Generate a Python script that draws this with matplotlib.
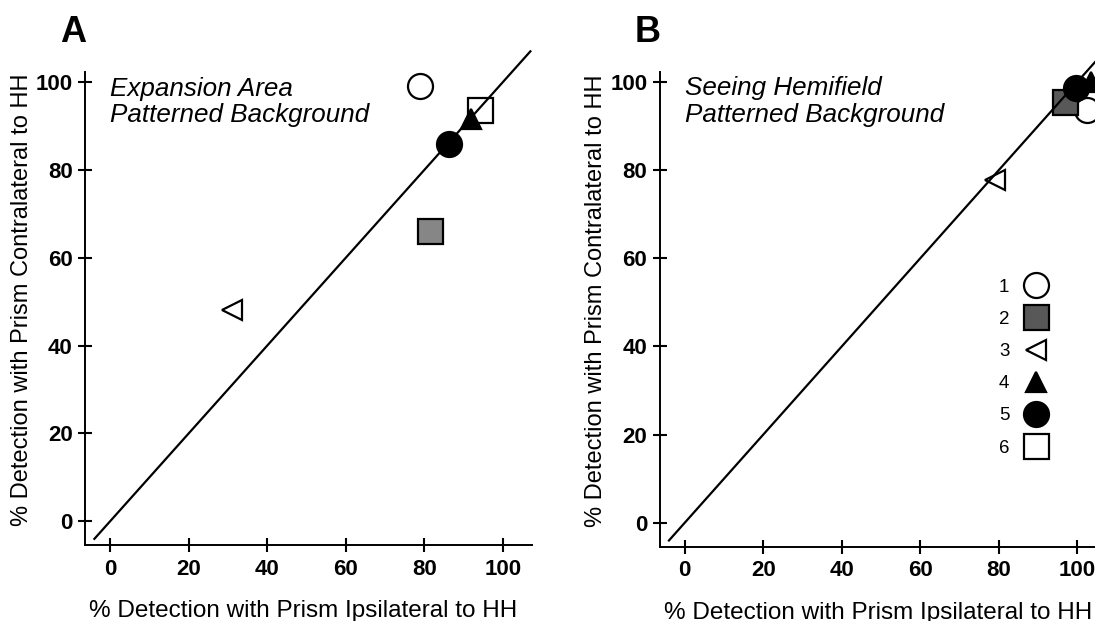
import numpy as np
import matplotlib
matplotlib.use("Agg")
import matplotlib.pyplot as plt

plt.rcParams['font.family'] = ['Liberation Sans', 'DejaVu Sans']

# ---- data ----
subjects = ['1', '2', '3', '4', '5', '6']
a_ipsi = [79.0, 81.4, 31.0, 91.8, 86.3, 94.1]
a_contra = [99.0, 66.0, 48.0, 91.7, 86.0, 93.6]
b_ipsi = [102.5, 96.9, 79.0, 103.5, 99.6, np.nan]
b_contra = [93.5, 95.5, 77.7, 100.0, 98.6, np.nan]
diag = [-4, 107]
ticks = [0, 20, 40, 60, 80, 100]
panel_texts = ["Expansion Area\nPatterned Background",
               "Seeing Hemifield\nPatterned Background"]
xlabel = "% Detection with Prism Ipsilateral to HH"
ylabel = "% Detection with Prism Contralateral to HH"

# ---- styles ----
markers = ['o', 's', '<', '^', 'o', 's']
msizes = [18, 18, 15, 15, 18, 18]
faces_a = ['white', '#868686', 'white', 'black', 'black', 'white']
faces_b = ['white', '#585858', 'white', 'black', 'black', 'white']
zorders = [2, 3, 2, 3.5, 3, 2.5]

fig = plt.figure(figsize=(10.95, 6.21), dpi=100)
axA = fig.add_axes([0.0776, 0.1224, 0.4082, 0.7617])
axB = fig.add_axes([0.6023, 0.1197, 0.4082, 0.7649])

handles = []
for ax, xs, ys, faces, txt in [(axA, a_ipsi, a_contra, faces_a, panel_texts[0]),
                               (axB, b_ipsi, b_contra, faces_b, panel_texts[1])]:
    hs = []
    for i, s in enumerate(subjects):
        h, = ax.plot([xs[i]], [ys[i]], linestyle='none', marker=markers[i],
                     markersize=msizes[i], markerfacecolor=faces[i],
                     markeredgecolor='black', markeredgewidth=1.6,
                     zorder=zorders[i], clip_on=False, label=s)
        hs.append(h)
    handles.append(hs)
    ax.plot(diag, diag, color='black', linewidth=1.6, zorder=5, clip_on=False)
    ax.set_xlim(-6.4, 107.4)
    ax.set_ylim(-5.4, 102.3)
    ax.set_xticks(ticks)
    ax.set_yticks(ticks)
    for sp in ['top', 'right']:
        ax.spines[sp].set_visible(False)
    for sp in ['left', 'bottom']:
        ax.spines[sp].set_linewidth(1.4)
    ax.tick_params(direction='inout', length=10.5, width=1.5, labelsize=16)
    ax.tick_params(axis='x', pad=4.5)
    ax.tick_params(axis='y', pad=3.5)
    for lab in ax.get_xticklabels() + ax.get_yticklabels():
        lab.set_fontweight('bold')
    ax.set_xlabel(xlabel, fontsize=17.5)
    ax.set_ylabel(ylabel, fontsize=17)
    ax.xaxis.label.set_va('baseline')
    ax.xaxis.set_label_coords(0.489, -0.153)
    ax.yaxis.label.set_va('center')
    ax.yaxis.set_label_coords(-0.141, 0.518)
    ax.text(0.056, 0.99, txt, transform=ax.transAxes, fontsize=18.7,
            style='italic', ha='left', va='top', linespacing=1.12)

# legend in panel B (using panel B's marker handles, open square from A)
leg_handles = list(handles[1][:5]) + [handles[0][5]]
leg = axB.legend(leg_handles, subjects, loc='upper left',
                 bbox_to_anchor=(0.759, 0.564), frameon=False,
                 markerfirst=False, fontsize=13.5, handlelength=1.2,
                 handletextpad=0.8, labelspacing=0.8, borderpad=0,
                 borderaxespad=0, numpoints=1)

fig.text(60 / 1095, 1 - 42 / 621, 'A', fontsize=26, fontweight='bold',
         ha='left', va='baseline')
fig.text(635 / 1095, 1 - 42 / 621, 'B', fontsize=26, fontweight='bold',
         ha='left', va='baseline')

fig.savefig('out.png', dpi=100)
